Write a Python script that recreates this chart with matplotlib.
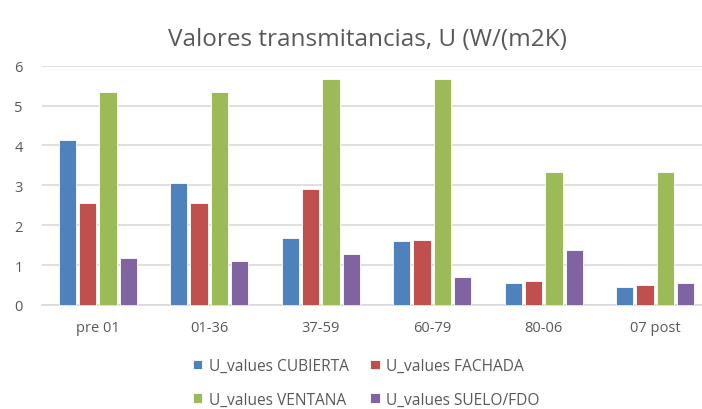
import numpy as np
import matplotlib.pyplot as plt

plt.rcParams['font.family'] = ['Open Sans', 'DejaVu Sans']

categories = ["pre 01", "01-36", "37-59", "60-79", "80-06", "07 post"]
cubierta = [4.14, 3.07, 1.67, 1.60, 0.56, 0.44]
fachada = [2.55, 2.55, 2.92, 1.63, 0.59, 0.50]
ventana = [5.33, 5.33, 5.67, 5.67, 3.34, 3.34]
suelo = [1.17, 1.11, 1.27, 0.71, 1.39, 0.56]

series = [
    ("U_values CUBIERTA", cubierta, "#4F81BD"),
    ("U_values FACHADA", fachada, "#C0504D"),
    ("U_values VENTANA", ventana, "#9BBB59"),
    ("U_values SUELO/FDO", suelo, "#8064A2"),
]

txt = "#595959"
grid = "#d9d9d9"

fig = plt.figure(figsize=(7.02, 4.10), dpi=100)
ax = fig.add_axes([42 / 702, 104 / 410, 669 / 702, 239.3 / 410])

x = np.arange(len(categories))
pitch = 0.182
width = 0.155
bars = {}
for i, (name, vals, col) in enumerate(series):
    off = (i - 1.5) * pitch
    bars[name] = ax.bar(x + off, vals, width, color=col, edgecolor="white",
                        linewidth=0.6, label=name, zorder=3)

ax.set_xlim(-0.5, len(categories) - 0.5)
ax.set_ylim(0, 6)
ax.set_yticks(range(0, 7))
ax.set_xticks(x)
ax.set_xticklabels(categories)
ax.yaxis.grid(True, color=grid, linewidth=1.2, zorder=0)
ax.tick_params(axis="both", length=0, colors=txt, labelsize=10.5)
ax.tick_params(axis="x", pad=11)
ax.tick_params(axis="y", pad=14)
for s in ["top", "right", "left"]:
    ax.spines[s].set_visible(False)
ax.spines["bottom"].set_color(grid)
ax.spines["bottom"].set_linewidth(1.2)

fig.text(0.524, 0.902, "Valores transmitancias, U (W/(m2K)", ha="center",
         va="center", fontsize=17.5, color=txt)

# legend: two rows, order fills column-first
names = [s[0] for s in series]
order = [0, 2, 1, 3]
handles = [bars[names[i]] for i in order]
labels = [names[i] for i in order]
fig.legend(handles, labels, ncol=2, loc="upper left",
           bbox_to_anchor=(193 / 702, 1 - 359 / 410), frameon=False,
           fontsize=11.2, labelcolor=txt, handlelength=0.6, handleheight=0.6,
           handletextpad=0.4, columnspacing=1.4, labelspacing=1.15,
           borderpad=0, borderaxespad=0)

fig.savefig("out.png", dpi=100)
